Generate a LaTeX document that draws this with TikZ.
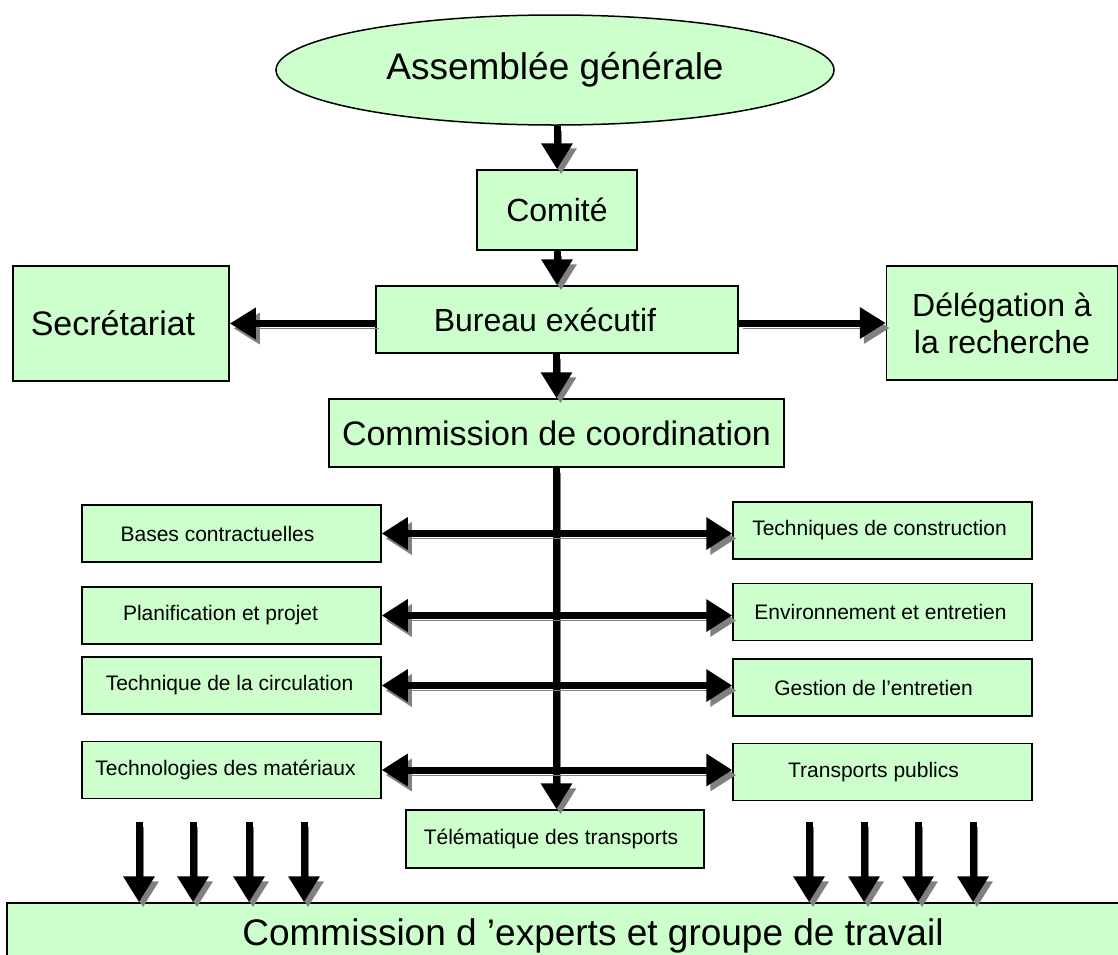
\documentclass[tikz,border=0pt]{standalone}
\usepackage{fontspec}
\setmainfont{Liberation Sans}
\usetikzlibrary{arrows.meta,shapes.geometric}
\definecolor{boxgreen}{HTML}{CCFFCC}
\definecolor{shadowgray}{HTML}{808080}
\begin{document}
\begin{tikzpicture}[x=1pt,y=-1pt,
  box/.style={draw=black, line width=1.5pt, fill=boxgreen, inner sep=0pt, align=center},
  smallbox/.style={box, font=\fontsize{21}{25}\selectfont, minimum width=299pt, minimum height=57pt},
  ell/.style={box, ellipse, minimum width=558pt, minimum height=110pt, font=\fontsize{37}{43}\selectfont},
  arr/.style={line width=7pt, -{Triangle[length=26pt,width=30pt]},
    preaction={draw=shadowgray, transform canvas={shift={(4pt,-5pt)}}}},
  dbl/.style={line width=7pt, {Triangle[length=26pt,width=31pt]}-{Triangle[length=26pt,width=31pt]},
    preaction={draw=shadowgray, transform canvas={shift={(4pt,-5pt)}}}}
]
\useasboundingbox (0,0) rectangle (1118,954);

% top chain
\node[ell] (ag) at (555,70) {Assemblée générale};
\node[box, minimum width=160pt, minimum height=80pt, font=\fontsize{32}{37}\selectfont] (comite) at (557,210) {Comité};
\node[box, minimum width=362pt, minimum height=67pt, font=\fontsize{32}{37}\selectfont] (bureau) at (557,319.5) {\hspace*{-24pt}Bureau exécutif};
\node[box, minimum width=216pt, minimum height=115pt, font=\fontsize{34}{39}\selectfont] (sec) at (121,323.5) {\hspace*{-16pt}Secrétariat};
\node[box, minimum width=231pt, minimum height=114pt, font=\fontsize{32}{37}\selectfont] (del) at (1002,323) {Délégation à\\la recherche};
\node[box, minimum width=455pt, minimum height=68pt, font=\fontsize{34}{39}\selectfont] (coord) at (556.5,433) {Commission de coordination};

% left boxes
\node[smallbox] (bases) at (231.5,533.5) {\hspace*{-28pt}Bases contractuelles};
\node[smallbox] (planif) at (231.5,615.5) {\hspace*{-22pt}Planification et projet};
\node[smallbox] (circ) at (231.5,685.5) {\hspace*{-4pt}Technique de la circulation};
\node[smallbox] (mat) at (231.5,770) {\hspace*{-12pt}Technologies des matériaux};

% right boxes
\node[smallbox] (constr) at (882.5,530.5) {\hspace*{-6pt}Techniques de construction};
\node[smallbox] (env) at (882.5,612) {\hspace*{-4pt}Environnement et entretien};
\node[smallbox] (gest) at (882.5,687.5) {\hspace*{-18pt}Gestion de l’entretien};
\node[smallbox] (transp) at (882.5,772) {\hspace*{-18pt}Transports publics};

% center bottom
\node[smallbox, minimum width=298pt, minimum height=58pt] (tele) at (555,839) {\hspace*{-8pt}Télématique des transports};

% bottom box
\node[box, minimum width=1172pt, minimum height=65pt, font=\fontsize{37}{43}\selectfont] (exp) at (593,935.5) {Commission d ’experts et groupe de travail};

% arrows of the top chain
\draw[arr] (comite.north |- ag.south) -- (comite.north);
\draw[arr] (comite.south) -- (bureau.north -| comite.south);
\draw[arr] (bureau.south -| coord.north) -- (coord.north);
\draw[arr] (sec.east -| bureau.west) -- (sec.east);
\draw[arr] (del.west -| bureau.east) -- (del.west);

% trunk
\draw[arr] (coord.south) -- (coord.south |- tele.north);

% horizontal double arrows
\draw[dbl] (bases.east) -- (bases.east -| constr.west);
\draw[dbl] (planif.east) -- (planif.east -| env.west);
\draw[dbl] (circ.east) -- (circ.east -| gest.west);
\draw[dbl] (mat.east) -- (mat.east -| transp.west);

% bottom arrows
\foreach \i/\x in {1/139,2/193,3/249,4/304,5/809,6/864,7/918,8/973}{
  \coordinate (d\i) at (\x,822);
  \draw[arr] (d\i) -- (d\i |- exp.north);
}
\end{tikzpicture}
\end{document}
